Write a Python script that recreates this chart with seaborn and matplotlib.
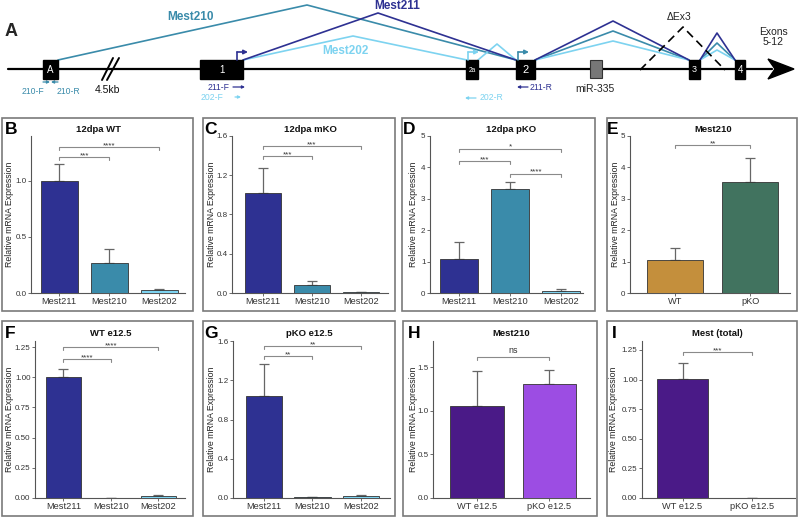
import matplotlib
matplotlib.use("Agg")
import matplotlib.pyplot as plt
from matplotlib.patches import Rectangle, Polygon
import seaborn as sns

sns.set_theme(style="white")
plt.rcParams['font.family'] = ['Liberation Sans', 'DejaVu Sans']

# ---------------- data ----------------
iso_cats = ["Mest211", "Mest210", "Mest202"]
wt_cats = ["WT", "pKO"]
e125_cats = ["WT e12.5", "pKO e12.5"]

b_vals = [1.00, 0.27, 0.024]
b_err = [0.146, 0.126, 0.015]
c_vals = [1.02, 0.078, 0.007]
c_err = [0.257, 0.041, 0.007]
d_vals = [1.09, 3.32, 0.06]
d_err = [0.53, 0.21, 0.08]
e_vals = [1.06, 3.53]
e_err = [0.38, 0.78]
f_vals = [1.00, 0.002, 0.017]
f_err = [0.07, 0.0, 0.005]
g_vals = [1.038, 0.007, 0.017]
g_err = [0.331, 0.004, 0.010]
h_vals = [1.05, 1.31]
h_err = [0.41, 0.16]
i_vals = [1.007, 0.004]
i_err = [0.136, 0.0]

b_sig = [(0, 1, 1.214, "***"), (0, 2, 1.30, "****")]
c_sig = [(0, 1, 1.396, "***"), (0, 2, 1.495, "***")]
d_sig = [(0, 2, 4.6, "*"), (0, 1, 4.2, "***"), (1, 2, 3.8, "****")]
e_sig = [(0, 1, 4.70, "**")]
f_sig = [(0, 1, 1.148, "****"), (0, 2, 1.25, "****")]
g_sig = [(0, 1, 1.447, "**"), (0, 2, 1.549, "**")]
h_sig = [(0, 1, 1.62, "ns")]
i_sig = [(0, 1, 1.233, "***")]

C211, C210, C202 = "#2E3192", "#3A8BAA", "#7DD3F0"
iso_colors = [C211, C210, C202]
e_colors = ["#C48F3C", "#41735F"]
h_colors = ["#4A1A87", "#9C4DE3"]

# gene diagram (schematic coordinates)
exon_x0 = [43, 200, 466, 516, 689, 735]
exon_x1 = [58, 243, 478, 535, 700, 745]
exon_lab = ["A", "1", "2a", "2", "3", "4"]
exon_fs = [7, 7, 4.8, 8, 6.5, 7]
mest211_paths = [([243, 378, 516], [60, 13, 60]), ([535, 613, 689], [60, 21, 60]),
                 ([700, 717, 735], [60, 33, 60])]
mest210_paths = [([58, 307, 516], [60, 5, 60]), ([535, 613, 689], [60, 31, 60]),
                 ([700, 717, 735], [60, 43, 60])]
mest202_paths = [([243, 353, 467], [60, 36, 60]), ([478, 497, 516], [60, 44, 60]),
                 ([535, 613, 689], [60, 41, 60]), ([700, 717, 735], [60, 50, 60])]
dex3_x = [640, 683, 725]
dex3_y = [70, 27, 70]

W, H = 800, 518
fig = plt.figure(figsize=(8.0, 5.18), dpi=100)
fig.patch.set_facecolor("white")

bg = fig.add_axes([0, 0, 1, 1])
bg.set_xlim(0, W)
bg.set_ylim(H, 0)
bg.axis("off")

# ---------- Panel A ----------
bg.plot([8, 772], [69, 69], color="black", lw=1.6, zorder=2)
bg.add_patch(Polygon([[768, 59], [794, 69], [768, 79], [775, 69]], closed=True,
                     color="black", zorder=3))
bg.plot([102, 113], [80, 58], color="black", lw=1.4, zorder=3)
bg.plot([107, 119], [80, 58], color="black", lw=1.4, zorder=3)

for paths, col in [(mest210_paths, C210), (mest202_paths, C202), (mest211_paths, C211)]:
    for xs, ys in paths:
        bg.plot(xs, ys, color=col, lw=1.2, zorder=2)
bg.plot(dex3_x, dex3_y, color="black", lw=1.2, ls=(0, (5, 3)), zorder=2)

for x0, x1, lab, fs in zip(exon_x0, exon_x1, exon_lab, exon_fs):
    bg.add_patch(Rectangle((x0, 60), x1 - x0, 19, facecolor="black",
                           edgecolor="black", zorder=4))
    bg.text((x0 + x1) / 2, 70, lab, color="white", fontsize=fs,
            ha="center", va="center", zorder=5)
bg.add_patch(Rectangle((590, 60), 12, 18, facecolor="#777777",
                       edgecolor="#333333", lw=0.8, zorder=4))

# promoter arrows
for px, col in [(237, C211), (468, C202), (518, C210)]:
    bg.plot([px, px], [60, 52], color=col, lw=1.2, zorder=4)
    bg.annotate("", xy=(px + 11, 52), xytext=(px, 52),
                arrowprops=dict(arrowstyle="-|>", color=col, lw=1.2,
                                mutation_scale=6, shrinkA=0, shrinkB=0), zorder=4)

# primers
def parrow(x0, x1, y, col):
    bg.annotate("", xy=(x1, y), xytext=(x0, y),
                arrowprops=dict(arrowstyle="-|>", color=col, lw=0.9,
                                mutation_scale=4, shrinkA=0, shrinkB=0))

parrow(43, 50, 82, C210)
parrow(58, 51, 82, C210)
bg.text(33, 91, "210-F", color=C210, fontsize=6.2, ha="center", va="center")
bg.text(68, 91, "210-R", color=C210, fontsize=6.2, ha="center", va="center")
bg.text(107, 90, "4.5kb", color="#111111", fontsize=7.5, ha="center", va="center")
bg.text(218, 87, "211-F", color=C211, fontsize=6.2, ha="center", va="center")
parrow(233, 245, 87, C211)
bg.text(212, 97, "202-F", color=C202, fontsize=6.2, ha="center", va="center")
parrow(235, 241, 97, C202)
parrow(528, 517, 87, C211)
bg.text(541, 87, "211-R", color=C211, fontsize=6.2, ha="center", va="center")
parrow(476, 465, 98, C202)
bg.text(491, 98, "202-R", color=C202, fontsize=6.2, ha="center", va="center")
bg.text(595, 89, "miR-335", color="#222222", fontsize=7.5, ha="center", va="center")
bg.text(679, 17, "ΔEx3", color="#222222", fontsize=7.5, ha="center", va="center")
bg.text(773, 37, "Exons\n5-12", color="#222222", fontsize=7.5, ha="center",
        va="center", linespacing=1.1)
bg.text(190, 17, "Mest210", color=C210, fontsize=8.5, fontweight="bold",
        ha="center", va="center")
bg.text(397, 6, "Mest211", color=C211, fontsize=8.5, fontweight="bold",
        ha="center", va="center")
bg.text(345, 51, "Mest202", color=C202, fontsize=8.5, fontweight="bold",
        ha="center", va="center")
bg.text(5, 32, "A", fontsize=13, fontweight="bold", ha="left", va="center")

# ---------- bar panels ----------
panels = [
    dict(letter="B", title="12dpa WT", cats=iso_cats, vals=b_vals, err=b_err, cols=iso_colors,
         sig=b_sig, border=(2, 118, 193, 311), ax=(31, 136, 185, 293), xlim=(-0.56, 2.52),
         ylim=1.40, yt=[0, 0.5, 1.0], fmt="{:.1f}", tx=99, lx=5, ylx=9.5),
    dict(letter="C", title="12dpa mKO", cats=iso_cats, vals=c_vals, err=c_err, cols=iso_colors,
         sig=c_sig, border=(203, 118, 395, 311), ax=(232, 136, 388, 293), xlim=(-0.63, 2.55),
         ylim=1.6, yt=[0, 0.4, 0.8, 1.2, 1.6], fmt="{:.1f}", tx=310, lx=204, ylx=212),
    dict(letter="D", title="12dpa pKO", cats=iso_cats, vals=d_vals, err=d_err, cols=iso_colors,
         sig=d_sig, border=(402, 118, 595, 311), ax=(430, 136, 583, 293), xlim=(-0.57, 2.43),
         ylim=5, yt=[0, 1, 2, 3, 4, 5], fmt="{:d}", tx=511, lx=403, ylx=414),
    dict(letter="E", title="Mest210", cats=wt_cats, vals=e_vals, err=e_err, cols=e_colors,
         sig=e_sig, border=(607, 118, 797, 311), ax=(630, 136, 790, 293), xlim=(-0.6, 1.53),
         ylim=5, yt=[0, 1, 2, 3, 4, 5], fmt="{:d}", tx=713, lx=607, ylx=615),
    dict(letter="F", title="WT e12.5", cats=iso_cats, vals=f_vals, err=f_err, cols=iso_colors,
         sig=f_sig, border=(2, 321, 193, 516), ax=(35, 341, 185, 498), xlim=(-0.6, 2.57),
         ylim=1.30, yt=[0, 0.25, 0.5, 0.75, 1.0, 1.25], fmt="{:.2f}", tx=111, lx=5, ylx=9.5),
    dict(letter="G", title="pKO e12.5", cats=iso_cats, vals=g_vals, err=g_err, cols=iso_colors,
         sig=g_sig, border=(203, 321, 395, 516), ax=(233, 341, 390, 498), xlim=(-0.63, 2.59),
         ylim=1.6, yt=[0, 0.4, 0.8, 1.2, 1.6], fmt="{:.1f}", tx=309, lx=204, ylx=212),
    dict(letter="H", title="Mest210", cats=e125_cats, vals=h_vals, err=h_err, cols=h_colors,
         sig=h_sig, border=(403, 321, 597, 516), ax=(433, 341, 590, 498), xlim=(-0.61, 1.56),
         ylim=1.80, yt=[0, 0.5, 1.0, 1.5], fmt="{:.1f}", tx=511, lx=408, ylx=414),
    dict(letter="I", title="Mest (total)", cats=e125_cats, vals=i_vals, err=i_err, cols=h_colors,
         sig=i_sig, border=(607, 321, 797, 516), ax=(642, 341, 795, 498), xlim=(-0.58, 1.61),
         ylim=1.326, yt=[0, 0.25, 0.5, 0.75, 1.0, 1.25], fmt="{:.2f}", tx=717, lx=612, ylx=614),
]

AX_COL = "#555555"
for p in panels:
    x0, y0, x1, y1 = p["border"]
    bg.add_patch(Rectangle((x0, y0), x1 - x0, y1 - y0, fill=False,
                           edgecolor="#7a7a7a", lw=1.2))
    l, t, r, b = p["ax"]
    ax = fig.add_axes([l / W, 1 - b / H, (r - l) / W, (b - t) / H])
    ax.patch.set_alpha(0)
    sns.barplot(x=p["cats"], y=p["vals"], hue=p["cats"], palette=p["cols"],
                legend=False, width=0.74, edgecolor="#333333", linewidth=0.6,
                saturation=1, errorbar=None, ax=ax, zorder=3)
    n = len(p["cats"])
    ax.errorbar(range(n), p["vals"], yerr=[[0] * n, p["err"]], fmt="none",
                ecolor="#666666", elinewidth=0.9, capsize=3.5, capthick=0.9, zorder=2)
    ax.set_xlim(*p["xlim"])
    ax.set_ylim(0, p["ylim"])
    ax.set_yticks(p["yt"])
    ax.set_yticklabels([p["fmt"].format(v) for v in p["yt"]])
    ax.set_xlabel("")
    ax.set_ylabel("")
    for s in ["top", "right"]:
        ax.spines[s].set_visible(False)
    for s in ["left", "bottom"]:
        ax.spines[s].set_color(AX_COL)
        ax.spines[s].set_linewidth(0.8)
    ax.tick_params(axis="both", length=2, width=0.6, color=AX_COL, pad=1.2,
                   labelcolor="#333333", left=True, bottom=True)
    ax.tick_params(axis="x", labelsize=6.7)
    ax.tick_params(axis="y", labelsize=5.8)
    # significance brackets
    drop = p["ylim"] * 3.0 / (b - t)
    for i, j, yv, lab in p["sig"]:
        ax.plot([i, i, j, j], [yv - drop, yv, yv, yv - drop], color="#8a8a8a",
                lw=0.8, clip_on=False, zorder=4)
        if lab == "ns":
            ax.annotate(lab, ((i + j) / 2, yv), xytext=(0, 1.5), textcoords="offset points",
                        ha="center", va="bottom", fontsize=6.4, color="#333333")
        else:
            ax.annotate(lab, ((i + j) / 2, yv), xytext=(0, 1.0), textcoords="offset points",
                        ha="center", va="center", fontsize=5.8, color="#333333")
    # titles, labels
    fig.text(p["tx"] / W, 1 - (y0 + 12) / H, p["title"], fontsize=6.8,
             fontweight="bold", ha="center", va="center", color="#111111")
    fig.text(p["lx"] / W, 1 - (y0 + 12) / H, p["letter"], fontsize=12.5,
             fontweight="bold", ha="left", va="center", color="black")
    fig.text(p["ylx"] / W, 1 - ((t + b) / 2) / H, "Relative mRNA Expression",
             fontsize=6.3, rotation=90, ha="center", va="center", color="#222222")

fig.savefig("out.png", dpi=100, facecolor="white")
